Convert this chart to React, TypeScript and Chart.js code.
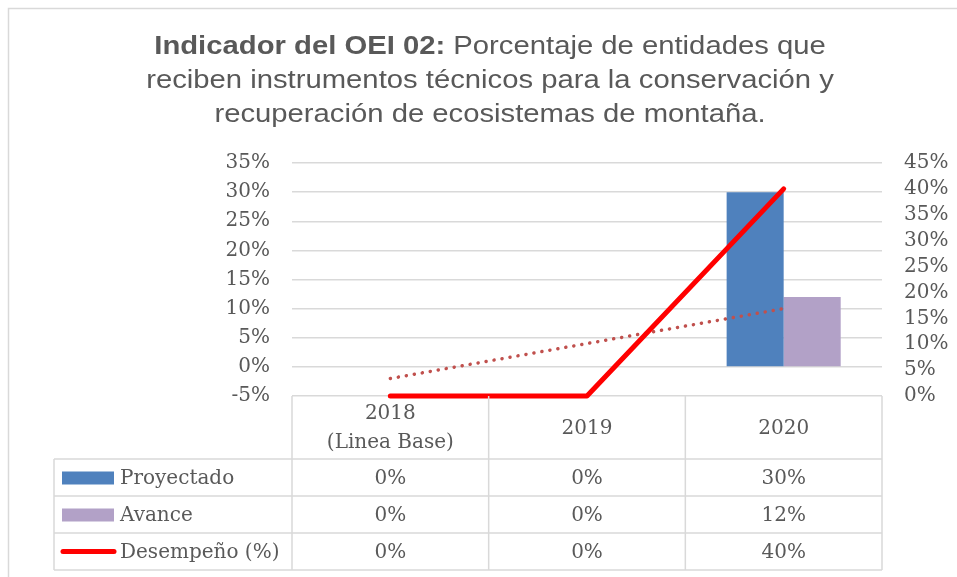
import React, { useEffect, useRef } from "react";
import { Chart, registerables } from "chart.js";

Chart.register(...registerables);

// ---- Data ----
const categories: string[][] = [["2018", "(Linea Base)"], ["2019"], ["2020"]];
const proyectado = [0, 0, 30];
const avance = [0, 0, 12];
const desempeno = [0, 0, 40];
// Linear trend line of "Avance"
const tendenciaAvance = [-2, 4, 10];
const tableRows = [
  { label: "Proyectado", values: ["0%", "0%", "30%"] },
  { label: "Avance", values: ["0%", "0%", "12%"] },
  { label: "Desempeño (%)", values: ["0%", "0%", "40%"] },
];
const titleBold = "Indicador del OEI 02:";
const titleLines = [
  " Porcentaje de entidades que",
  "reciben instrumentos técnicos para la conservación y",
  "recuperación de ecosistemas de montaña.",
];

const TEXT = "#595959";
const GRID = "#D9D9D9";
const BLUE = "#4F81BD";
const PURPLE = "#B2A1C7";
const RED = "#FF0000";
const TREND = "#C0504D";
const SERIF = "'DejaVu Serif', serif";
const SANS = "'Liberation Sans', Arial, sans-serif";

const decorPlugin = {
  id: "decor",
  afterDraw(chart: any) {
    const ctx = chart.ctx as CanvasRenderingContext2D;
    const area = chart.chartArea;
    ctx.save();
    // outer border
    ctx.strokeStyle = GRID;
    ctx.lineWidth = 1.5;
    ctx.beginPath();
    ctx.moveTo(8.5, 600);
    ctx.lineTo(8.5, 8.5);
    ctx.lineTo(960, 8.5);
    ctx.stroke();

    // title
    const sx = 1.17;
    const cx = 490;
    ctx.fillStyle = TEXT;
    ctx.textBaseline = "alphabetic";
    const boldFont = `bold 25px ${SANS}`;
    const regFont = `25px ${SANS}`;
    ctx.font = boldFont;
    const wb = ctx.measureText(titleBold).width;
    ctx.font = regFont;
    const wr = ctx.measureText(titleLines[0]).width;
    const baselines = [54, 88, 122];
    {
      const total = (wb + wr) * sx;
      ctx.save();
      ctx.translate(cx - total / 2, baselines[0]);
      ctx.scale(sx, 1);
      ctx.textAlign = "left";
      ctx.font = boldFont;
      ctx.fillText(titleBold, 0, 0);
      ctx.font = regFont;
      ctx.fillText(titleLines[0], wb, 0);
      ctx.restore();
    }
    for (let i = 1; i < titleLines.length; i++) {
      ctx.save();
      ctx.translate(cx, baselines[i]);
      ctx.scale(sx, 1);
      ctx.textAlign = "center";
      ctx.font = regFont;
      ctx.fillText(titleLines[i], 0, 0);
      ctx.restore();
    }

    // data table
    const n = categories.length;
    const left = area.left;
    const right = area.right;
    const colW = (right - left) / n;
    const top = area.bottom;
    const headerBottom = 459;
    const rowH = 37;
    const legendLeft = 54;
    const tableBottom = headerBottom + rowH * tableRows.length;

    ctx.strokeStyle = GRID;
    ctx.lineWidth = 1.5;
    ctx.beginPath();
    for (let i = 0; i <= n; i++) {
      const x = left + colW * i;
      ctx.moveTo(x, top);
      ctx.lineTo(x, tableBottom);
    }
    ctx.moveTo(legendLeft, headerBottom);
    ctx.lineTo(legendLeft, tableBottom);
    for (let r = 0; r <= tableRows.length; r++) {
      const y = headerBottom + rowH * r;
      ctx.moveTo(legendLeft, y);
      ctx.lineTo(right, y);
    }
    ctx.stroke();

    ctx.fillStyle = TEXT;
    ctx.font = `20px ${SERIF}`;
    ctx.textAlign = "center";
    ctx.textBaseline = "middle";
    const headMid = (top + headerBottom) / 2;
    categories.forEach((lines, i) => {
      const x = chart.scales.x.getPixelForValue(i);
      const lh = 29;
      const y0 = headMid - ((lines.length - 1) * lh) / 2;
      lines.forEach((t, k) => ctx.fillText(t, x, y0 + k * lh + 1));
    });
    tableRows.forEach((row, r) => {
      const yMid = headerBottom + rowH * r + rowH / 2 + 1;
      row.values.forEach((v, i) => {
        ctx.fillText(v, chart.scales.x.getPixelForValue(i), yMid);
      });
      ctx.textAlign = "left";
      ctx.fillText(row.label, 120, yMid);
      ctx.textAlign = "center";
      if (r === 0 || r === 1) {
        ctx.fillStyle = r === 0 ? BLUE : PURPLE;
        ctx.fillRect(62, yMid - 7, 52, 13);
        ctx.fillStyle = TEXT;
      } else {
        ctx.strokeStyle = RED;
        ctx.lineWidth = 5;
        ctx.lineCap = "round";
        ctx.beginPath();
        ctx.moveTo(63, yMid - 1);
        ctx.lineTo(114, yMid - 1);
        ctx.stroke();
      }
    });
    ctx.restore();
  },
};

export default function App() {
  const ref = useRef<HTMLCanvasElement | null>(null);
  useEffect(() => {
    if (!ref.current) return;
    const chart = new Chart(ref.current, {
      type: "bar",
      data: {
        labels: categories.map((c) => c.join(" ")),
        datasets: [
          {
            type: "line",
            label: "Desempeño (%)",
            data: desempeno,
            yAxisID: "y2",
            borderColor: RED,
            borderWidth: 5,
            pointRadius: 0,
            borderCapStyle: "round",
            borderJoinStyle: "round",
            clip: 10,
            order: 0,
          } as any,
          {
            type: "line",
            label: "Lineal (Avance)",
            data: tendenciaAvance,
            yAxisID: "y",
            borderColor: TREND,
            borderWidth: 3.5,
            borderDash: [0.1, 8],
            borderCapStyle: "round",
            pointRadius: 0,
            clip: 10,
            order: 1,
          } as any,
          {
            label: "Proyectado",
            data: proyectado,
            yAxisID: "y",
            backgroundColor: BLUE,
            categoryPercentage: 0.58,
            barPercentage: 1,
            order: 2,
          },
          {
            label: "Avance",
            data: avance,
            yAxisID: "y",
            backgroundColor: PURPLE,
            categoryPercentage: 0.58,
            barPercentage: 1,
            order: 2,
          },
        ],
      },
      options: {
        animation: false,
        responsive: false,
        layout: { padding: { top: 163, bottom: 181, left: 0, right: 0 } },
        plugins: {
          legend: { display: false },
          tooltip: { enabled: false },
          title: { display: false },
        },
        scales: {
          x: { display: false, offset: true },
          y: {
            position: "left",
            min: -5,
            max: 35,
            ticks: {
              stepSize: 5,
              autoSkip: false,
              color: TEXT,
              padding: 22,
              font: { family: SERIF, size: 20 },
              callback: (v: any) => `${v}%`,
            },
            grid: { color: GRID, lineWidth: 1.5, drawTicks: false },
            border: { display: false },
            afterFit: (s: any) => {
              s.width = 292;
            },
          },
          y2: {
            position: "right",
            min: 0,
            max: 45,
            ticks: {
              stepSize: 5,
              autoSkip: false,
              color: TEXT,
              padding: 22,
              font: { family: SERIF, size: 20 },
              callback: (v: any) => `${v}%`,
            },
            grid: { display: false, drawTicks: false },
            border: { display: false },
            afterFit: (s: any) => {
              s.width = 75;
            },
          },
        },
      } as any,
      plugins: [decorPlugin],
    });
    return () => chart.destroy();
  }, []);
  return (
    <div style={{ position: "absolute", left: 0, top: 0, width: 957, height: 577, background: "#fff" }}>
      <canvas ref={ref} width={957} height={577} />
    </div>
  );
}
